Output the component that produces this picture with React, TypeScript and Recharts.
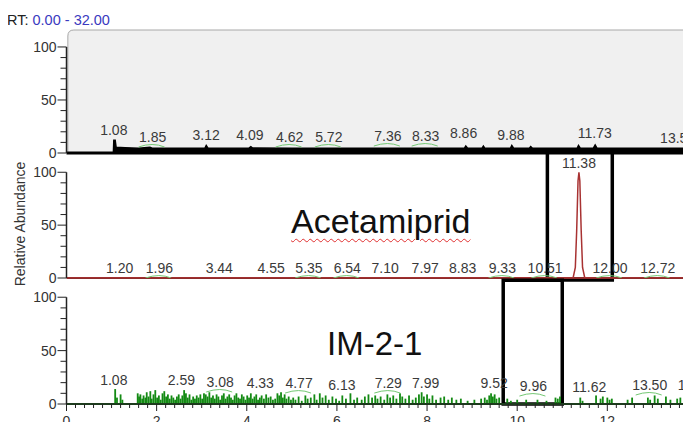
import React from 'react';
import {
  ComposedChart, Area, Line, Bar, Scatter, XAxis, YAxis, ReferenceLine, ReferenceArea,
} from 'recharts';

const FONT = '"Liberation Sans", Arial, Helvetica, sans-serif';

// retention time axis (min)
const RT_DOMAIN: [number, number] = [0, 14.5];
const X_MAJOR = [0, 2, 4, 6, 8, 10, 12, 14];
const X_TICKS = Array.from({ length: 73 }, (_, i) => Math.round(i * 2) / 10); // minor every 0.2
const Y_TICKS = [0, 10, 20, 30, 40, 50, 60, 70, 80, 90, 100];
const Y_LABELED = [0, 50, 100];

// TIC trace (black) [rt, relative abundance]
const TIC_TRACE: [number, number][] = [
  [0, 0], [1.04, 0], [1.05, 12], [1.08, 12], [1.1, 5.5], [1.3, 5], [1.6, 4.5], [1.85, 5.5], [1.9, 4.5],
  [2.5, 4.5], [3.07, 4.5], [3.1, 7], [3.14, 4.5], [4.05, 4.7], [4.09, 6], [4.13, 4.7], [5.0, 4.5],
  [6.0, 4.5], [7.0, 4.5], [8.0, 4.5], [8.83, 4.5], [8.86, 6.5], [8.9, 4.5], [9.22, 4.5], [9.25, 6.5], [9.28, 4.5],
  [9.85, 4.5], [9.88, 7], [9.92, 4.5], [10.27, 4.5], [10.3, 6], [10.34, 4.5], [11.33, 4.5], [11.36, 7],
  [11.4, 4.5], [11.69, 4.5], [11.73, 7.5], [11.77, 4.5], [14.5, 4.5],
];

// Acetamiprid trace (red)
const ACET_TRACE: [number, number][] = [
  [0, 0], [11.24, 0], [11.29, 10], [11.32, 45], [11.35, 92], [11.37, 100], [11.39, 92],
  [11.42, 45], [11.45, 10], [11.5, 0], [14.5, 0],
];

// IM-2-1 trace (green spikes)
const IM_SPIKES: [number, number][] = [
  [1.08, 14], [1.12, 6], [1.2, 9], [1.24, 4],
  [1.58, 10], [1.61, 7], [1.64, 9], [1.68, 5], [1.71, 8], [1.75, 6], [1.78, 11], [1.82, 7],
  [1.86, 12], [1.89, 5], [1.93, 9], [1.97, 13], [2.01, 6], [2.05, 8], [2.09, 4], [2.13, 10],
  [2.17, 12], [2.21, 7], [2.25, 9], [2.29, 5], [2.33, 8], [2.37, 6], [2.41, 4], [2.45, 7],
  [2.49, 9], [2.53, 5], [2.57, 8], [2.61, 13], [2.65, 10], [2.69, 6], [2.73, 9], [2.77, 4],
  [2.81, 7], [2.85, 5], [2.89, 8], [2.93, 6], [2.97, 9], [3.01, 5], [3.05, 10], [3.09, 9],
  [3.13, 7], [3.17, 11], [3.21, 6], [3.25, 8], [3.29, 5], [3.33, 9], [3.37, 7], [3.41, 4],
  [3.45, 8], [3.49, 10], [3.53, 5], [3.57, 7], [3.61, 9], [3.65, 6], [3.69, 4], [3.73, 8],
  [3.77, 10], [3.81, 6], [3.85, 5], [3.89, 9], [3.93, 7], [3.97, 4], [4.01, 8], [4.05, 6],
  [4.09, 10], [4.13, 5], [4.17, 7], [4.21, 9], [4.25, 4], [4.29, 6], [4.33, 8], [4.38, 5],
  [4.43, 9], [4.48, 6], [4.53, 7], [4.58, 4], [4.63, 5], [4.68, 10], [4.72, 8], [4.76, 11],
  [4.8, 6], [4.84, 9], [4.88, 5], [4.93, 7], [4.98, 4],
  [5.03, 6], [5.08, 4], [5.15, 7], [5.22, 3], [5.3, 8], [5.35, 5], [5.42, 6], [5.5, 9],
  [5.55, 4], [5.62, 10], [5.68, 6], [5.75, 8], [5.82, 4], [5.9, 7], [5.98, 5], [6.05, 3],
  [6.12, 8], [6.2, 5], [6.3, 10], [6.38, 4], [6.45, 6], [6.55, 4], [6.62, 7], [6.7, 9],
  [6.78, 6], [6.85, 8], [6.9, 5], [6.97, 7], [7.05, 4], [7.12, 9], [7.18, 6], [7.25, 8],
  [7.32, 5], [7.4, 10], [7.45, 7], [7.52, 5], [7.6, 8], [7.68, 4], [7.75, 6], [7.82, 9],
  [7.88, 11], [7.93, 7], [8.0, 9], [8.05, 5], [8.12, 8], [8.2, 4], [8.3, 6], [8.38, 7],
  [8.47, 4], [8.55, 6], [8.65, 4], [8.75, 5], [8.9, 3], [9.05, 4], [9.2, 5],
  [9.28, 6], [9.33, 4], [9.38, 8], [9.42, 10], [9.46, 7], [9.5, 9], [9.54, 5], [9.6, 6],
  [9.78, 5], [9.86, 3], [10.0, 4], [10.2, 4], [10.45, 4], [10.65, 3], [10.85, 6], [10.9, 5],
  [10.95, 7], [11.4, 6], [11.45, 3], [11.75, 8], [11.85, 5], [11.9, 7], [12.0, 6], [12.05, 4],
  [12.1, 5], [12.45, 4], [12.55, 6], [12.9, 6], [12.95, 4], [13.05, 8], [13.12, 5], [13.3, 7],
  [13.4, 4], [13.55, 5], [13.62, 6], [13.7, 5], [13.76, 6], [13.84, 7],
];

// peak labels: [drawn at rt, drawn at height, text, has green mark]
const TIC_PEAKS: [number, number, string, boolean][] = [
  [1.05, 21.7, '1.08', false], [1.91, 15.1, '1.85', true], [3.1, 17, '3.12', false],
  [4.07, 17, '4.09', false], [4.95, 15.1, '4.62', true], [5.82, 15.1, '5.72', true],
  [7.13, 16, '7.36', true], [7.97, 16, '8.33', true], [8.81, 18.9, '8.86', false],
  [9.86, 17, '9.88', false], [11.72, 18.9, '11.73', false], [13.56, 14.2, '13.56', false],
];
const ACET_PEAKS: [number, number, string, boolean][] = [
  [11.37, 109, '11.38', false],
  [1.18, 9.4, '1.20', false], [2.06, 9.4, '1.96', true], [3.39, 9.4, '3.44', false],
  [4.54, 9.4, '4.55', false], [5.38, 9.4, '5.35', true], [6.23, 9.4, '6.54', true],
  [7.07, 9.4, '7.10', false], [7.96, 9.4, '7.97', false], [8.79, 9.4, '8.83', false],
  [9.67, 9.4, '9.33', true], [10.62, 9.4, '10.51', true], [12.06, 9.4, '12.00', true],
  [13.12, 9.4, '12.72', true], [14.18, 9.4, '13.94', false],
];
const IM_PEAKS: [number, number, string, boolean][] = [
  [1.05, 22.4, '1.08', false], [2.55, 22.4, '2.59', false], [3.41, 20.6, '3.08', true],
  [4.3, 19.6, '4.33', false], [5.16, 19.6, '4.77', true], [6.11, 17.8, '6.13', false],
  [7.14, 19.6, '7.29', true], [7.97, 19.6, '7.99', false], [9.49, 19.6, '9.52', false],
  [10.36, 16.8, '9.96', true], [11.6, 15.9, '11.62', false], [12.94, 17.8, '13.50', true],
  [13.95, 17.8, '13.92', false],
];

// highlight boxes [rt from, rt to, height from, height to]
const ACET_BOX = [10.67, 12.11, -2, 121];
const IM_BOX = [9.69, 11.0, 0, 116];

const toXY = (rows: [number, number][]) => rows.map(([x, y]) => ({ x, y }));
const toLabels = (rows: [number, number, string, boolean][]) =>
  rows.map(([x, y, text, mark]) => ({ x, y, text, mark }));

const XTick = (props: any) => {
  const { x, y, payload } = props;
  const major = X_MAJOR.includes(payload.value);
  return (
    <g>
      <line x1={x} x2={x} y1={y} y2={y + (major ? 7 : 4)} stroke="#222" strokeWidth={1} />
      {major && (
        <text x={x} y={y + 22} textAnchor="middle" fontSize={14} fill="#333" fontFamily={FONT}>
          {payload.value}
        </text>
      )}
    </g>
  );
};

const YTick = (props: any) => {
  const { x, y, payload } = props;
  const major = Y_LABELED.includes(payload.value);
  return (
    <g>
      <line x1={x - (major ? 9 : 6)} x2={x} y1={y} y2={y} stroke="#222" strokeWidth={1} />
      {major && (
        <text x={x - 10} y={y + 5} textAnchor="end" fontSize={14} fill="#333" fontFamily={FONT}>
          {payload.value}
        </text>
      )}
    </g>
  );
};

const PeakLabel = (props: any) => {
  const { cx, cy, payload } = props;
  return (
    <g>
      <text x={cx} y={cy + 5} textAnchor="middle" fontSize={14} fill="#3a3a3a" fontFamily={FONT}>
        {payload.text}
      </text>
      {payload.mark && (
        <path
          d={`M${cx - 14},${cy + 10} Q${cx},${cy + 5} ${cx + 12},${cy + 10}`}
          fill="none" stroke="#74c874" strokeWidth={1}
        />
      )}
    </g>
  );
};

// thin spike drawn at the bar's own centre
const Spike = (props: any) => {
  const { x, y, width, height } = props;
  if (!height) return null;
  return <rect x={x + width / 2 - 0.9} y={y} width={1.8} height={height} fill="#138a13" />;
};

const GrayPanel = (props: any) => {
  const { x, y, width, height } = props;
  const r = 6;
  return (
    <g>
      <path d={`M${x},${y + height} L${x},${y + r} Q${x},${y} ${x + r},${y} L${x + width},${y} L${x + width},${y + height} Z`} fill="#f0f0f0" />
      <path d={`M${x},${y + height} L${x},${y + r} Q${x},${y} ${x + r},${y} L${x + width},${y}`} fill="none" stroke="#a8a8a8" strokeWidth={1} />
    </g>
  );
};

const yAxisProps = (top: number) => ({
  type: 'number' as const,
  domain: [0, top],
  allowDataOverflow: true,
  width: 60,
  ticks: Y_TICKS,
  tick: YTick,
  tickLine: false,
  axisLine: false,
  tickSize: 0,
  tickMargin: 0,
  interval: 0 as const,
});

const AXIS_SEGMENT = [{ x: 0, y: 0 }, { x: 0, y: 100 }];
const CHART_W = 720;
const MARGIN_L = 6.5;

export default function App() {
  return (
    <div style={{ position: 'relative', width: 691, height: 430, margin: -8, overflow: 'hidden', background: '#fff', fontFamily: FONT }}>
      <div style={{ position: 'absolute', left: 7, top: 12, fontSize: 14.5, lineHeight: '16px', whiteSpace: 'nowrap' }}>
        <span style={{ color: '#222' }}>RT: </span>
        <span style={{ color: '#3a3ac0' }}>0.00 - 32.00</span>
      </div>

      {/* TIC */}
      <div style={{ position: 'absolute', left: 0, top: 20 }}>
        <ComposedChart width={CHART_W} height={141} margin={{ top: 10, right: 0, bottom: 8, left: MARGIN_L }}>
          <XAxis dataKey="x" type="number" domain={RT_DOMAIN} allowDataOverflow hide />
          <YAxis {...yAxisProps(116)} />
          <ReferenceArea x1={0.03} x2={14.5} y1={0} y2={116} shape={GrayPanel} ifOverflow="visible" />
          <Area data={toXY(TIC_TRACE)} dataKey="y" type="linear" stroke="#000" strokeWidth={1.5} fill="#000" fillOpacity={1} dot={false} isAnimationActive={false} />
          <ReferenceLine y={0} stroke="#000" strokeWidth={3} />
          <ReferenceLine segment={AXIS_SEGMENT} stroke="#222" strokeWidth={1.5} ifOverflow="visible" />
          <Scatter data={toLabels(TIC_PEAKS)} dataKey="y" shape={PeakLabel} isAnimationActive={false} />
        </ComposedChart>
      </div>

      {/* Acetamiprid */}
      <div style={{ position: 'absolute', left: 0, top: 140 }}>
        <ComposedChart width={CHART_W} height={146} margin={{ top: 9, right: 0, bottom: 8, left: MARGIN_L }}>
          <XAxis dataKey="x" type="number" domain={RT_DOMAIN} allowDataOverflow hide />
          <YAxis {...yAxisProps(122)} />
          <ReferenceLine y={0} stroke="#8e2b2b" strokeWidth={2} />
          <Line data={toXY(ACET_TRACE)} dataKey="y" type="linear" stroke="#a83232" strokeWidth={1.5} dot={false} isAnimationActive={false} />
          <ReferenceLine segment={AXIS_SEGMENT} stroke="#222" strokeWidth={1.5} ifOverflow="visible" />
          <Scatter data={toLabels(ACET_PEAKS)} dataKey="y" shape={PeakLabel} isAnimationActive={false} />
          <ReferenceArea x1={ACET_BOX[0]} x2={ACET_BOX[1]} y1={ACET_BOX[2]} y2={ACET_BOX[3]} fill="none" fillOpacity={0} stroke="#000" strokeWidth={3.5} ifOverflow="visible" />
        </ComposedChart>
      </div>

      {/* IM-2-1 */}
      <div style={{ position: 'absolute', left: 0, top: 270 }}>
        <ComposedChart width={CHART_W} height={170} data={toXY(IM_SPIKES)} margin={{ top: 8, right: 0, bottom: 10, left: MARGIN_L }}>
          <XAxis dataKey="x" type="number" domain={RT_DOMAIN} allowDataOverflow ticks={X_TICKS} tick={XTick}
            tickLine={false} tickSize={0} tickMargin={0} interval={0} height={26} axisLine={{ stroke: '#222', strokeWidth: 1.5 }} />
          <YAxis {...yAxisProps(118)} />
          <Bar dataKey="y" shape={Spike} fill="#138a13" isAnimationActive={false} />
          <ReferenceLine y={0} stroke="#138a13" strokeWidth={2} />
          <ReferenceLine segment={AXIS_SEGMENT} stroke="#222" strokeWidth={1.5} ifOverflow="visible" />
          <Scatter data={toLabels(IM_PEAKS)} dataKey="y" shape={PeakLabel} isAnimationActive={false} />
          <ReferenceArea x1={IM_BOX[0]} x2={IM_BOX[1]} y1={IM_BOX[2]} y2={IM_BOX[3]} fill="none" fillOpacity={0} stroke="#000" strokeWidth={3.5} ifOverflow="visible" />
        </ComposedChart>
      </div>

      <div style={{ position: 'absolute', left: 20, top: 224, transform: 'translate(-50%, -50%) rotate(-90deg)', fontSize: 14, color: '#333', whiteSpace: 'nowrap' }}>
        Relative Abundance
      </div>
      <div style={{ position: 'absolute', left: 291, top: 204, fontSize: 34, lineHeight: '34px', color: '#111', whiteSpace: 'nowrap',
        textDecoration: 'underline wavy #e03030', textDecorationThickness: '1px', textUnderlineOffset: '5px' }}>
        Acetamiprid
      </div>
      <div style={{ position: 'absolute', left: 327, top: 327, fontSize: 33, lineHeight: '33px', color: '#111', whiteSpace: 'nowrap' }}>
        IM-2-1
      </div>
    </div>
  );
}
